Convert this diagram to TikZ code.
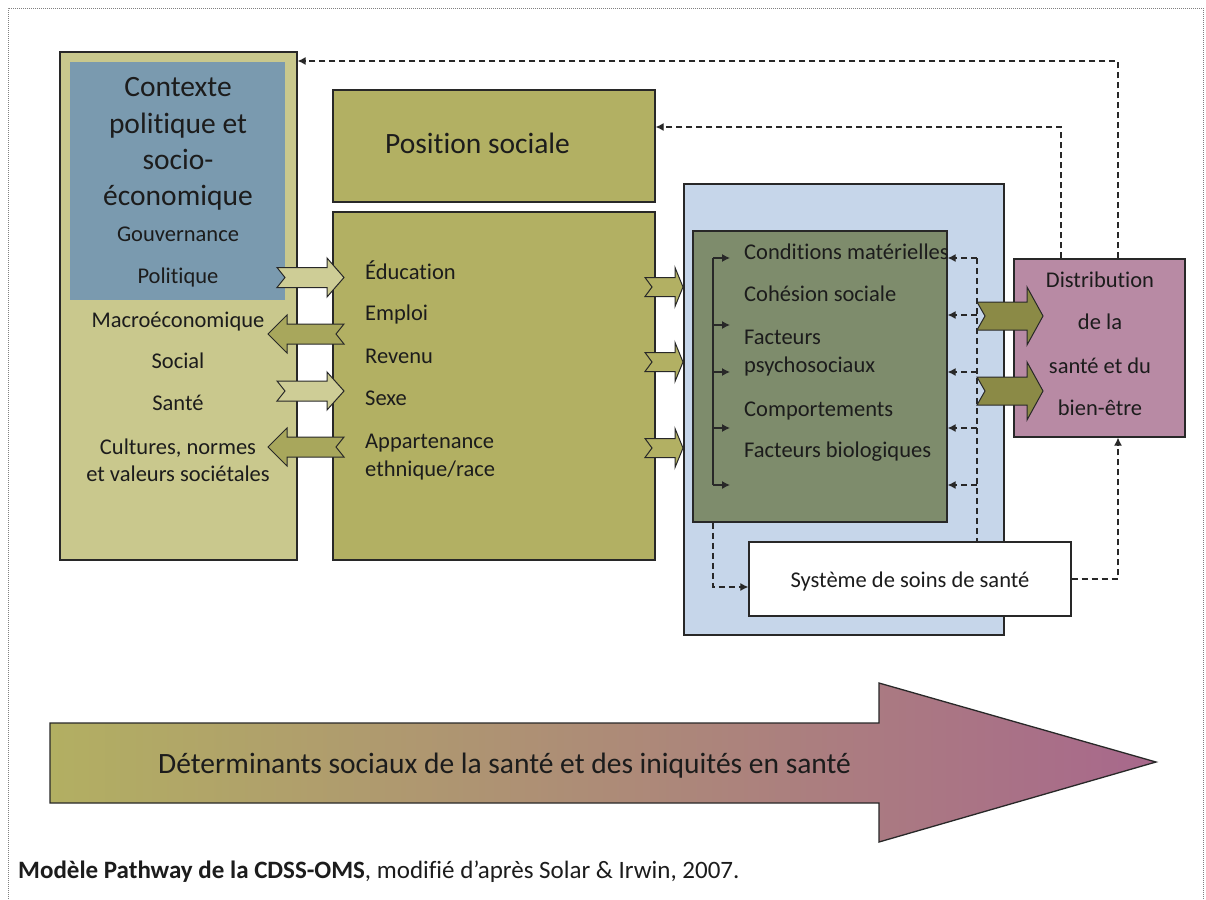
\documentclass[tikz,border=0pt]{standalone}
\usepackage{fontspec}
\setmainfont{Carlito}[Ligatures=NoCommon]
\usetikzlibrary{arrows.meta}

\definecolor{ctxfill}{RGB}{201,200,141}
\definecolor{govfill}{RGB}{122,154,175}
\definecolor{posfill}{RGB}{178,176,99}
\definecolor{condfill}{RGB}{198,214,234}
\definecolor{greenfill}{RGB}{126,140,108}
\definecolor{distfill}{RGB}{184,138,164}
\definecolor{lightarr}{RGB}{206,205,150}
\definecolor{darkarr}{RGB}{168,167,92}
\definecolor{bigarr}{RGB}{139,138,70}
\definecolor{detleft}{RGB}{178,175,98}
\definecolor{detright}{RGB}{168,104,140}
\definecolor{ink}{RGB}{28,28,28}
\definecolor{edge}{RGB}{40,40,40}

% notched block arrow: colour, tail, length, head length, notch, body half, head half
\newcommand{\notched}[7]{%
  \filldraw[fill=#1, draw=edge, line width=1pt, shift={#2}]
    (0,-#6) -- ({#3-(#4)},-#6) -- ({#3-(#4)},-#7) -- (#3,0)
    -- ({#3-(#4)},#7) -- ({#3-(#4)},#6) -- (0,#6) -- (#5,0) -- cycle;}

\begin{document}
\begin{tikzpicture}[x=1pt, y=-1pt,
    box/.style={draw=edge, line width=1.3pt, inner sep=0pt},
    small/.style={font=\fontsize{22.5}{27}\selectfont, text=ink, inner sep=0pt},
    big/.style={font=\fontsize{29.5}{36}\selectfont, text=ink, inner sep=0pt},
    fb/.style={dash pattern=on 6pt off 4pt, line width=1.2pt, draw=edge, -{Latex[length=8pt,width=8pt]}},
    tick/.style={line width=1.2pt, draw=edge, -{Latex[length=8pt,width=8pt]}}]
    \useasboundingbox (0,0) rectangle (1206,899);
    \draw[gray, line width=0.8pt, dash pattern=on 1pt off 1pt](8,899)--(8,8)--(1203,8)--(1203,899);

    % boxes
    \node[box, fill=ctxfill, minimum width=237, minimum height=508] (ctx) at (178.5,306) {};
    \node[fill=govfill, inner sep=0pt, minimum width=215, minimum height=238] (gov) at (177.5,181) {};
    \node[box, fill=posfill, minimum width=322, minimum height=112] (pos) at (494,146) {};
    \node[box, fill=posfill, minimum width=322, minimum height=348] (mid) at (494,386) {};
    \node[box, fill=condfill, minimum width=320, minimum height=451] (cond) at (844,409.5) {};
    \node[box, fill=greenfill, minimum width=254, minimum height=291] (green) at (820,376.5) {};
    \node[box, fill=white, minimum width=322, minimum height=74] (soins) at (910,579) {};
    \node[box, fill=distfill, minimum width=171, minimum height=178] (distr) at (1099.5,348) {};

    % feedback lines
    \coordinate (fbout) at (1118,61);
    \coordinate (fbin) at (1061,127);
    \coordinate (rail) at (977,258);
    \coordinate (brk) at (713,258);
    \draw[fb] (fbout |- distr.north) -- (fbout) -- (fbout -| ctx.east);
    \draw[fb] (fbin |- distr.north) -- (fbin) -- (fbin -| pos.east);
    \draw[fb] (soins.east) -| (fbout |- distr.south);
    \draw[fb] (green.south -| brk) |- ([yshift=-8pt]soins.west);
    \draw[fb, -] (rail) -- (rail |- soins.north);
    \foreach \y [count=\i] in {258,315,372,428,485}{
        \coordinate (back\i) at (977,\y);
        \draw[fb] (back\i) -- (green.east |- back\i);
    }
    \foreach \y [count=\i] in {258,325,372,428,485}{
        \coordinate (in\i) at (730,\y);
    }
    \draw[line width=1.2pt, draw=edge] (brk |- in1) -- (brk |- in5);
    \foreach \i in {1,...,5}{
        \draw[tick] (brk |- in\i) -- (in\i);
    }

    % block arrows
    \notched{lightarr}{(277,277.5)}{67}{17}{8}{10}{19.5}
    \notched{darkarr}{(344,334)}{-76}{-19}{-8}{10}{19}
    \notched{lightarr}{(277,391)}{67}{17}{8}{10}{19}
    \notched{darkarr}{(344,447)}{-76}{-19}{-8}{10}{19}
    \foreach \y in {287,362,448}{
        \notched{posfill}{(645,\y)}{38}{8}{7}{9.5}{19.5}
    }
    \foreach \y in {316,391}{
        \notched{bigarr}{(977,\y)}{66}{16}{8}{14}{29}
    }

    % texts
    \foreach \y/\t [count=\i] in {96/Contexte, 133/politique et, 169/socio-, 205/économique}{
        \node[big, anchor=base] (title\i) at (178,\y) {\t};
    }
    \foreach \y/\t [count=\i] in {241/Gouvernance, 283/Politique, 327/Macroéconomique, 368/Social, 410/Santé, 454/{Cultures, normes}, 481/et valeurs sociétales}{
        \node[small, anchor=base] (ctxitem\i) at (178,\y) {\t};
    }
    \node[big, anchor=base west] (postext) at (385,153) {Position sociale};
    \foreach \y/\t [count=\i] in {279/Éducation, 320/Emploi, 363/Revenu, 405/Sexe, 448/Appartenance, 476/{ethnique/race}}{
        \node[small, anchor=base west] (miditem\i) at (365,\y) {\t};
    }
    \foreach \y/\t [count=\i] in {259/Conditions matérielles, 301/Cohésion sociale, 344/Facteurs, 372/psychosociaux, 416/Comportements, 457/Facteurs biologiques}{
        \node[small, anchor=base west] (greenitem\i) at (744,\y) {\t};
    }
    \foreach \y/\t [count=\i] in {287/Distribution, 329/de la, 373/santé et du, 415/bien-être}{
        \node[small, anchor=base] (distitem\i) at (1100,\y) {\t};
    }
    \node[small, anchor=base] (soinstext) at (910,587) {Système de soins de santé};

    % determinants arrow
    \shadedraw[left color=detleft, right color=detright, draw=edge, line width=1.3pt]
        (50,723) -- (879,723) -- (879,683) -- (1156,762) -- (879,842) -- (879,803) -- (50,803) -- cycle;
    \node[big, anchor=base west] (dettext) at (158,773) {Déterminants sociaux de la santé et des iniquités en santé};

    \node[anchor=base west, font=\fontsize{25}{30}\selectfont, text=ink, inner sep=0pt] (caption) at (18,878)
        {\textbf{Modèle Pathway de la CDSS-OMS}, modifié d’après Solar \& Irwin, 2007.};
\end{tikzpicture}
\end{document}
